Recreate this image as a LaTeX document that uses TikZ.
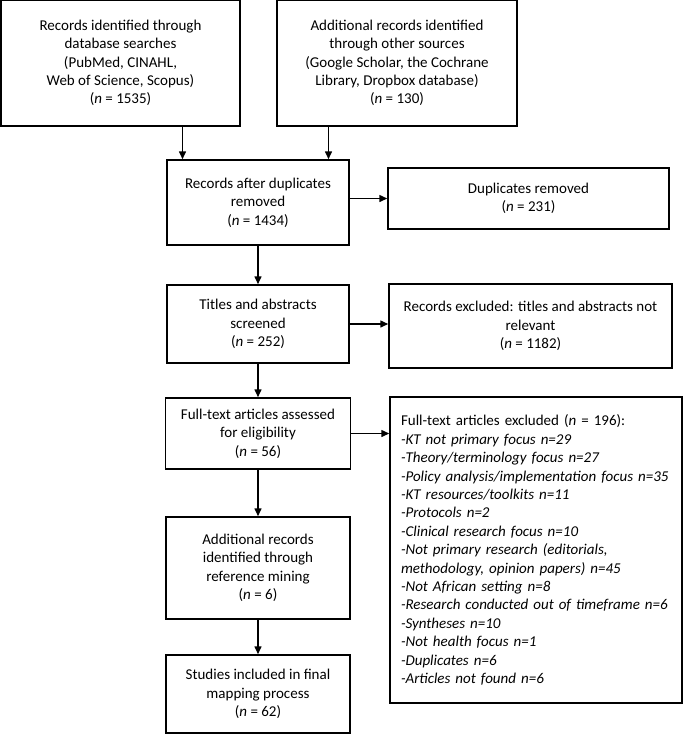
\documentclass[tikz,border=0pt]{standalone}
\usepackage{fontspec}
\setmainfont{Carlito}
\usetikzlibrary{arrows.meta, positioning}

\begin{document}
\begin{tikzpicture}[node distance={20pt}, box/.style = {draw, line width=1.5pt, align=center, inner sep=0pt}, on grid,
	arr/.style = {-{Triangle[length=8pt,width=7pt]}, line width=1.5pt}, font=\fontsize{15pt}{18.4pt}\selectfont]
	\useasboundingbox (0,0) rectangle (685pt,-734pt);
	\node[box, minimum width=239pt, minimum height=126pt] (A) at (120.5pt,-63pt) {Records identified through\\database searches\\(PubMed, CINAHL,\\Web of Science, Scopus)\\(\textit{n} = 1535)};
	\node[box, minimum width=240pt, minimum height=126pt] (B) [right=276.5pt of A] {Additional records identified\\through other sources\\(Google Scholar, the Cochrane\\Library, Dropbox database)\\(\textit{n} = 130)};
	\node[box, minimum width=182pt, minimum height=85pt] (C) [below right=139.5pt and 137.5pt of A] {Records after duplicates\\removed\\(\textit{n} = 1434)};
	\node[box, minimum width=281pt, minimum height=61pt] (D) [right=270.5pt of C, yshift=4pt] {Duplicates removed\\(\textit{n} = 231)};
	\node[box, minimum width=182pt, minimum height=78pt] (E) [below=121.5pt of C] {Titles and abstracts\\screened\\(\textit{n} = 252)};
	\node[box, minimum width=283pt, minimum height=84pt] (F) [right=272.5pt of E, yshift=-2pt] {Records excluded: titles and abstracts not\\relevant\\(\textit{n} = 1182)};
	\node[box, minimum width=185pt, minimum height=71pt] (G) [below=109.5pt of E] {Full-text articles assessed\\for eligibility\\(\textit{n} = 56)};
	\node[box, minimum width=292pt, minimum height=306pt, align=left, text width=270pt] (H) [below right=116.5pt and 278pt of G] {Full-text articles excluded (\textit{n} = 196):\\
		\textit{-KT not primary focus n=29}\\
		\textit{-Theory/terminology focus n=27}\\
		\textit{-Policy analysis/implementation focus n=35}\\
		\textit{-KT resources/toolkits n=11}\\
		\textit{-Protocols n=2}\\
		\textit{-Clinical research focus n=10}\\
		\textit{-Not primary research (editorials,}\\
		\textit{methodology, opinion papers) n=45}\\
		\textit{-Not African setting n=8}\\
		\textit{-Research conducted out of timeframe n=6}\\
		\textit{-Syntheses n=10}\\
		\textit{-Not health focus n=1}\\
		\textit{-Duplicates n=6}\\
		\textit{-Articles not found n=6}};
	\node[box, minimum width=184pt, minimum height=102pt] (I) [below=134.5pt of G] {Additional records\\identified through\\reference mining\\(\textit{n} = 6)};
	\node[box, minimum width=184pt, minimum height=78pt] (J) [below=126pt of I] {Studies included in final\\mapping process\\(\textit{n} = 62)};
	\draw[arr] ([xshift=-75.5pt]C.north |- A.south) -- ([xshift=-75.5pt]C.north);
	\draw[arr] ([xshift=70.5pt]C.north |- B.south) -- ([xshift=70.5pt]C.north);
	\draw[arr] (C.east |- D.west) -- (D.west);
	\draw[arr] (C.south) -- (E.north);
	\draw[arr] (E.east) -- (E.east -| F.west);
	\draw[arr] (E.south) -- (G.north);
	\draw[arr] (G.east) -- (G.east -| H.west);
	\draw[arr] (G.south) -- (I.north);
	\draw[arr] (I.south) -- (J.north);
\end{tikzpicture}
\end{document}
